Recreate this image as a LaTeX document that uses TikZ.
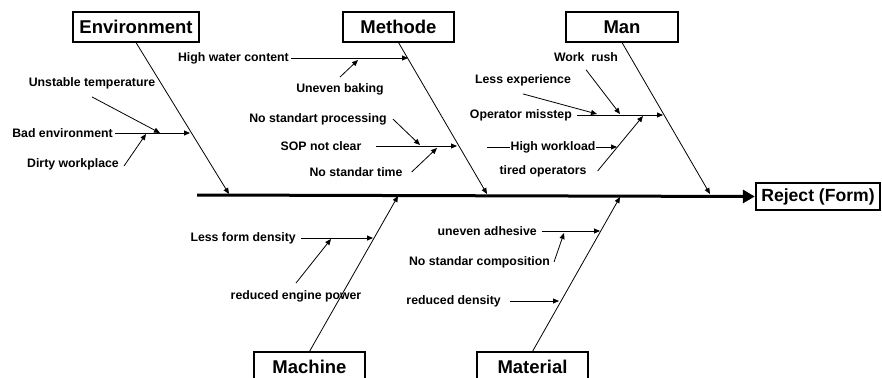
\documentclass[tikz,border=0pt]{standalone}
\usepackage{fontspec}
\setmainfont{Liberation Sans}
\usetikzlibrary{arrows.meta, positioning, calc}

\begin{document}
\begin{tikzpicture}[x=1pt, y=-1pt, >={Triangle[length=6pt, width=5pt]},
    catbox/.style={draw, line width=1.1pt, minimum width=111pt, minimum height=30pt, inner sep=0pt, font=\fontsize{18.5}{22}\selectfont\bfseries},
    cause/.style={font=\fontsize{12.3}{14}\selectfont\bfseries, inner sep=2pt},
    bone/.style={->, line width=0.8pt}]

  \useasboundingbox (0,0) rectangle (882,377);

  % --- Head and spine ---
  \node[draw, line width=2.4pt, minimum width=124pt, minimum height=27pt, inner sep=0pt,
        font=\fontsize{17.6}{20}\selectfont\bfseries] (reject) at (818,196.5) {Reject (Form)};
  \coordinate (tail) at (197,195);
  \draw[line width=3pt, -{Triangle[length=12pt, width=13pt]}] (tail) -- (reject.west);

  % --- Category boxes ---
  \node[catbox, minimum width=126pt] (env) at (136,27) {Environment};
  \node[catbox] (meth) at (398.5,27) {Methode};
  \node[catbox, minimum width=112pt] (man) at (622,27) {Man};
  \node[catbox] (mach) at (309.5,367) {Machine};
  \node[catbox] (mat) at (532.5,367) {Material};

  % --- Main bones (points on the spine) ---
  \coordinate (senv) at (229,194);
  \coordinate (smeth) at (487,194);
  \coordinate (sman) at (710,194);
  \coordinate (smach) at (398,196);
  \coordinate (smat) at (620,197);
  \draw[bone] (env.south) -- (senv);
  \draw[bone] (meth.south) -- (smeth);
  \draw[bone] (man.south) -- (sman);
  \draw[bone] (mach.north) -- (smach);
  \draw[bone] (mat.north) -- (smat);

  % --- Environment causes ---
  \node[cause, anchor=east] (badenv) at (115,133) {Bad environment};
  \node[cause] (unstemp) at (92,83) {Unstable temperature};
  \node[cause] (dirty) at (73,164) {Dirty workplace};
  \coordinate (e1) at (190,133);
  \coordinate (e2) at (160,133);
  \coordinate (e3) at (146,134);
  \draw[bone] (badenv.east) -- (e1);
  \draw[bone] ([yshift=-6pt]unstemp.south) -- (e2);
  \draw[bone] ([xshift=3pt, yshift=-2pt]dirty.east) -- (e3);

  % --- Methode causes ---
  \node[cause, anchor=east] (water) at (291,58) {High water content};
  \node[cause] (baking) at (340,89) {Uneven baking};
  \node[cause] (noproc) at (318,119) {No standart processing};
  \node[cause] (sop) at (321,146) {SOP not clear};
  \node[cause] (notime) at (356,172) {No standar time};
  \coordinate (m1) at (408,58);
  \coordinate (m2) at (358,60);
  \coordinate (m3) at (420,145);
  \coordinate (m4) at (457,146);
  \coordinate (m5) at (437,148);
  \draw[bone] (water.east) -- (m1);
  \draw[bone] ([yshift=4pt]baking.north) -- (m2);
  \draw[bone] ([xshift=4pt]noproc.east) -- (m3);
  \draw[bone] ([xshift=12pt]sop.east) -- (m4);
  \draw[bone] ([xshift=7pt]notime.east) -- (m5);

  % --- Man causes ---
  \node[cause] (rush) at (586,57) {Work~~rush};
  \node[cause] (lessexp) at (523,80) {Less experience};
  \node[cause, anchor=east] (misstep) at (574,115) {Operator misstep};
  \node[cause, inner sep=0.5pt] (workload) at (553,147) {High workload};
  \node[cause] (tired) at (543,171) {tired operators};
  \coordinate (hwl) at (487,147);
  \coordinate (h1) at (620,114);
  \coordinate (h2) at (597,114);
  \coordinate (h3) at (663,115);
  \coordinate (h4) at (617,147);
  \coordinate (h5) at (643,116);
  \draw[bone] ([yshift=-6pt]rush.south) -- (h1);
  \draw[bone] ([yshift=-6pt]lessexp.south) -- (h2);
  \draw[bone] ([xshift=3pt]misstep.east) -- (h3);
  \draw[line width=0.8pt] (hwl) -- (workload.west);
  \draw[bone] (workload.east) -- (h4);
  \draw[bone] ([xshift=9pt]tired.east) -- (h5);

  % --- Machine causes ---
  \node[cause, anchor=east] (density) at (298,238) {Less form density};
  \node[cause] (engine) at (296,296) {reduced engine power};
  \coordinate (c1) at (373,238);
  \coordinate (c2) at (331,239);
  \draw[bone] ([xshift=3pt]density.east) -- (c1);
  \draw[bone] ([yshift=5pt]engine.north) -- (c2);

  % --- Material causes ---
  \node[cause, anchor=east] (adhesive) at (539,231) {uneven adhesive};
  \node[cause, anchor=east] (compos) at (552,262) {No standar composition};
  \node[cause, anchor=east] (reddens) at (503,301) {reduced density};
  \coordinate (t1) at (600,231);
  \coordinate (t2) at (564,233);
  \coordinate (t3) at (559,301);
  \draw[bone] ([xshift=3pt]adhesive.east) -- (t1);
  \draw[bone] ([xshift=2pt]compos.east) -- (t2);
  \draw[bone] ([xshift=7pt]reddens.east) -- (t3);

\end{tikzpicture}
\end{document}
